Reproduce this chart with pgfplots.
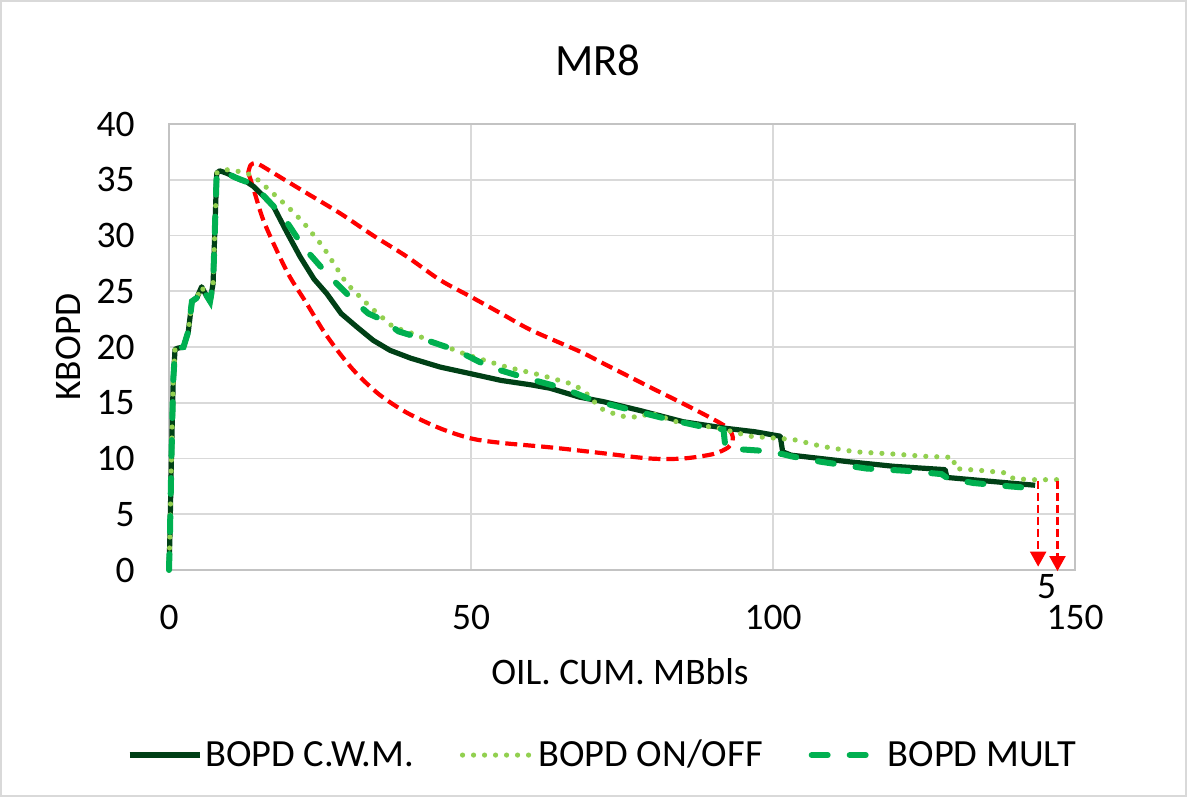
\documentclass[border=0pt]{standalone}
\usepackage{pgfplots}
\pgfplotsset{compat=1.18}
\usepackage{fontspec}
\setmainfont{Carlito}
\usetikzlibrary{arrows.meta}
\definecolor{cwm}{RGB}{0,64,22}
\definecolor{mult}{RGB}{0,176,80}
\definecolor{onoff}{RGB}{146,208,80}
\definecolor{gridc}{RGB}{217,217,217}
\begin{document}
\begin{tikzpicture}
\path[use as bounding box] (0,0) rectangle (593.5bp,398.5bp);
\draw[color=gridc, line width=1bp] (0.5bp,0.5bp) rectangle (593bp,398bp);
\begin{axis}[
  at={(84.5bp,113.5bp)}, anchor=south west,
  scale only axis, width=453bp, height=223bp,
  xmin=0, xmax=150, ymin=0, ymax=40,
  xtick={0,50,100,150}, ytick={0,5,...,40},
  grid=major, major grid style={color=gridc, line width=0.8bp},
  axis line style={color=gridc!90!black, line width=0.9bp},
  major tick length=0pt,
  clip=false,
  /pgf/number format/assume math mode=true,
  tick label style={font=\fontsize{18.8}{22}\selectfont, inner sep=0pt},
  yticklabel style={xshift=-17bp},
  xticklabel style={yshift=-17.5bp},
  legend columns=3,
  legend style={at={(axis description cs:0.479,-0.415)}, anchor=center,
    draw=none, fill=none, font=\fontsize{19.3}{22}\selectfont,
    /tikz/every even column/.append style={column sep=21.5bp},
    nodes={inner sep=1.5bp}},
  legend image code/.code={\draw[#1] (0bp,0bp) -- (35bp,0bp);},
]
% red annotation loop
\addplot[forget plot, red, line width=2.1bp, dash pattern=on 6bp off 3bp, smooth, tension=0.5] coordinates {
(13.1,35.6) (13.5,36.3) (14.3,36.5) (15.5,36.2) (17.3,35.6) (22.8,33.8) (28.3,32.0)
(33.8,30.0) (39.4,28.1) (44.9,26.0) (50,24.5) (55,23.0) (60,21.5) (68,19.6) (72,18.5)
(80,16.3) (86.3,14.6) (91.8,13.0) (93.2,12.2) (93.3,11.6) (92.6,11.0) (90.1,10.4)
(85.1,10.0) (79.6,10.0) (71.4,10.5) (63.1,11.0) (55,11.4) (50,11.8) (44.9,12.7)
(39.4,14.1) (34.9,15.7) (31.1,17.6) (28.3,19.4) (25.5,21.5) (22.8,23.9) (20,26.3)
(17.8,28.7) (15.6,31.4) (14.2,33.8) (13.4,35.2) (13.1,35.6)
};
\addplot[cwm, line width=2.6bp, line join=round] coordinates {
(0,0) (0.15,3) (0.4,10) (0.7,17) (1.0,19.8) (1.5,19.9) (2.4,20) (3.2,21.4) (3.8,24.1)
(4.6,24.4) (5.4,25.4) (6.0,24.8) (6.8,24.1) (7.3,25.7) (7.9,35.6) (8.4,35.8)
(9.5,35.6) (11.8,35.0) (12.9,34.8) (14,34.4) (15.5,33.6) (17.3,32.6) (19.5,30.3)
(21.7,28.1) (24,26.1) (26.1,24.8) (28.5,23.0) (31.1,21.8) (33.8,20.6) (36.6,19.7)
(40,19.0) (44.9,18.2) (50,17.6) (55,17.0) (60,16.6) (63.1,16.3) (68,15.5)
(71.9,15.1) (78,14.3) (85.1,13.3) (92.3,12.7) (97,12.4) (101.2,12.0) (101.6,10.6)
(103,10.3) (112.7,9.7) (120,9.3) (128.5,9.0) (128.8,8.3) (135,8.0) (143.4,7.6)
};
\addlegendentry{BOPD C.W.M.}
\addplot[onoff, line width=2.6bp, line cap=round, dash pattern=on 0bp off 5.5bp] coordinates {
(0,0) (0.15,3) (0.4,10) (0.7,17) (1.0,19.8) (1.5,19.9) (2.4,20) (3.2,21.4) (3.8,24.1)
(4.6,24.4) (5.4,25.4) (6.0,24.8) (6.8,24.1) (7.3,25.7) (7.9,35.6) (8.4,35.8)
(9.5,35.9) (11,35.8) (12.9,35.6) (14.5,35.1) (17.8,33.5) (20,32.4) (22.2,31.2)
(25.5,29.0) (27.5,27.3) (29.4,25.7) (33.3,23.6) (37.1,21.8) (40.4,21.2) (44.3,20.3)
(46.5,19.9) (49.3,19.3) (55.9,18.2) (61.4,17.5) (66.6,16.7)
(68,16.3) (69.4,15.7) (71.4,14.5) (74.7,13.8) (78,13.7) (79.6,14.1) (84,13.3)
(91.2,12.7) (96.2,12.0) (103.4,11.7) (108,11.1) (113.6,10.6) (120,10.4) (125,10.2)
(129.9,10.1) (130.1,9.1) (135,8.9) (138.7,8.7) (139.8,8.2) (143,8.1) (147,8.1)
};
\addlegendentry{BOPD ON/OFF}
\addplot[mult, line width=3bp, line cap=round, dash pattern=on 8bp off 11bp] coordinates {
(0,0) (0.15,3) (0.4,10) (0.7,17) (1.0,19.8) (1.5,19.9) (2.4,20) (3.2,21.4) (3.8,24.1)
(4.6,24.4) (5.4,25.4) (6.0,24.8) (6.8,24.1) (7.3,25.7) (7.9,35.6) (8.4,35.8)
(9.5,35.6) (11,35.2) (12.9,34.8) (15.1,33.9) (18.9,31.7) (22.2,29.0) (26.1,26.6)
(30.5,24.2) (33,23) (35.5,22.4) (38,21.4) (41.6,20.8) (47.6,19.7) (53.1,18.2)
(59.2,17.2) (65.3,16.3) (70.3,15.2) (76.9,14.3) (82,13.6) (87.9,12.9) (91.8,12.6)
(92.1,11.1) (92.5,10.9) (98,10.7) (101.5,10.4) (103,10.2) (108,9.7) (115.5,9.1)
(121.9,8.9) (127.9,8.6) (129,8.2) (133.2,7.8) (139.2,7.5) (141.5,7.4)
};
\addlegendentry{BOPD MULT}
% red arrows
\addplot[forget plot, red, line width=1.1bp, dash pattern=on 4bp off 2bp, -{Triangle[width=8bp,length=7.5bp]}] coordinates {(143.9,8.0) (143.9,0.3)};
\addplot[forget plot, red, line width=1.1bp, dash pattern=on 4bp off 2bp, -{Triangle[width=8bp,length=7.5bp]}] coordinates {(147.1,8.0) (147.1,-0.1)};
\node[font=\fontsize{18.8}{22}\selectfont, inner sep=0pt] at (axis cs:145.3,-1.45) {5};
\end{axis}
\node[font=\fontsize{22.5}{26}\selectfont] at (299bp,368.5bp) {MR8};
\node[font=\fontsize{18.8}{22}\selectfont, rotate=90] at (34bp,225bp) {KBOPD};
\node[font=\fontsize{18.8}{22}\selectfont] at (310bp,62.5bp) {OIL. CUM. MBbls};
\end{tikzpicture}
\end{document}
